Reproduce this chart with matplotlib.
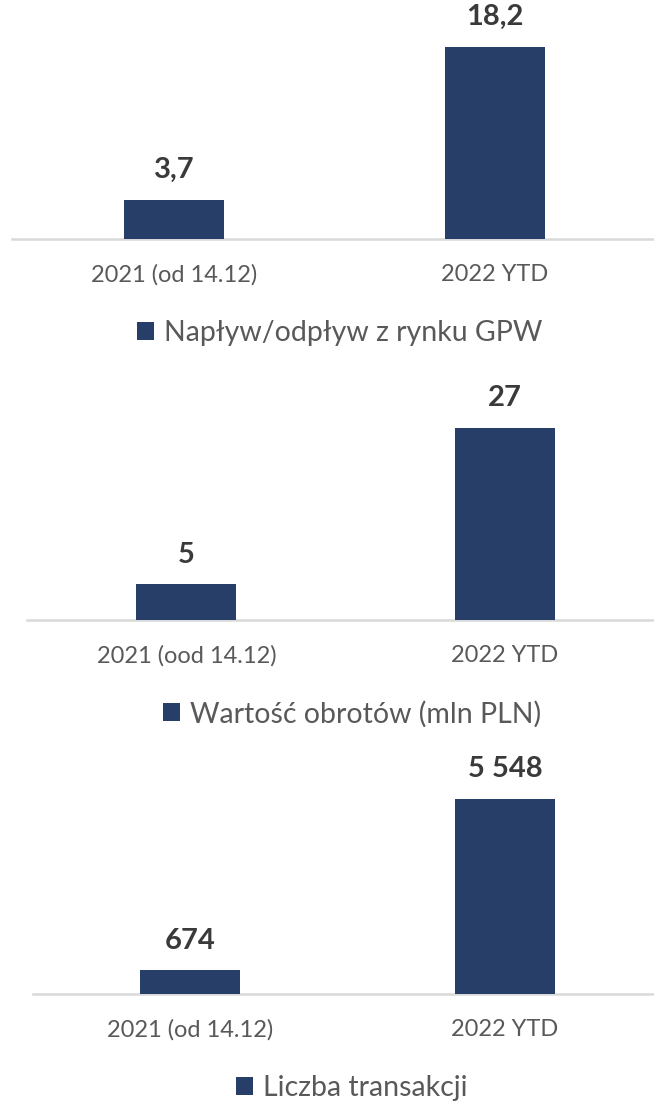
import matplotlib
matplotlib.use("Agg")
import matplotlib.pyplot as plt

# Dane z wykresu
kategorie_1 = ["2021 (od 14.12)", "2022 YTD"]
kategorie_2 = ["2021 (ood 14.12)", "2022 YTD"]
kategorie_3 = ["2021 (od 14.12)", "2022 YTD"]

naplyw = [3.7, 18.2]
obroty = [5, 27]
transakcje = [674, 5548]

legenda_1 = "Napływ/odpływ z rynku GPW"
legenda_2 = "Wartość obrotów (mln PLN)"
legenda_3 = "Liczba transakcji"

KOLOR = "#263E68"
W, H = 654, 1104

plt.rcParams['font.family'] = ['Lato', 'DejaVu Sans']

fig = plt.figure(figsize=(W / 100, H / 100), dpi=100)


def fmt_pl(v, dec):
    s = f"{v:,.{dec}f}".replace(",", " ").replace(".", ",")
    return s


#Rysuje jeden panel: os x w pikselach, slupki w pozycjach 0 i 1
def panel(kategorie, wartosci, dec, legenda, y_osi, lewo, c0, c1, px_top_bar, leg_x):
    wys = 232
    ax = fig.add_axes([lewo / W, 1 - y_osi / H, (W - lewo) / W, wys / H])
    ppu = c1 - c0
    ax.set_xlim((lewo - c0) / ppu, (W - c0) / ppu)
    skala = (y_osi - px_top_bar) / max(wartosci)
    ax.set_ylim(0, wys / skala)

    bary = ax.bar(range(len(wartosci)), wartosci, width=100 / ppu, color=KOLOR,
                  label=legenda, zorder=3)
    ax.bar_label(bary, labels=[fmt_pl(v, dec) for v in wartosci], padding=12,
                 fontsize=21, fontweight='bold', color='#3A3A3A')

    for s in ['top', 'right', 'left']:
        ax.spines[s].set_visible(False)
    ax.spines['bottom'].set_color('#D9D9D9')
    ax.spines['bottom'].set_linewidth(1.8)
    ax.set_yticks([])
    ax.set_xticks(range(len(kategorie)))
    ax.set_xticklabels(kategorie, fontsize=17, color='#595959')
    ax.tick_params(axis='x', length=0, pad=18)

    ax.legend(loc='center', bbox_to_anchor=(leg_x / W, 1 - (y_osi + 94) / H),
              bbox_transform=fig.transFigure, frameon=False, fontsize=20.5,
              handlelength=0.6, handleheight=0.6, handletextpad=0.35,
              labelcolor='#595959', borderpad=0)
    return ax


panel(kategorie_1, naplyw, 1, legenda_1, 239, 12, 174, 495, 47, 340)
panel(kategorie_2, obroty, 0, legenda_2, 620, 27, 186.5, 505, 428, 352)
panel(kategorie_3, transakcje, 0, legenda_3, 994, 33, 190, 505, 799, 352)

fig.savefig("out.png", dpi=100)
